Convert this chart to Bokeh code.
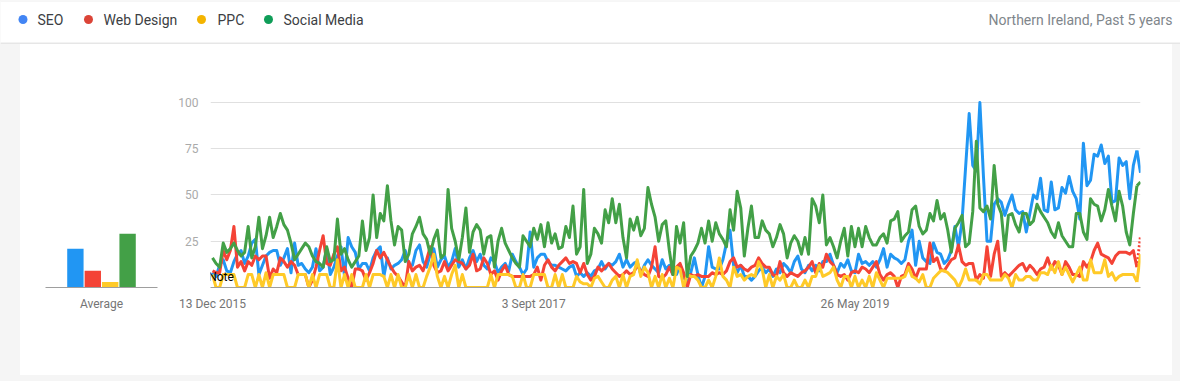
from bokeh.plotting import figure
from bokeh.layouts import column, row
from bokeh.models import FixedTicker, Label, Range1d
from bokeh.embed import file_html
from bokeh.resources import INLINE
from bokeh.core.properties import value

# ---------------- data ----------------
series_names = ["SEO", "Web Design", "PPC", "Social Media"]
region_label = "Northern Ireland, Past 5 years"
average_label = "Average"
note_label = "Note"

seo = [8, 6, 12, 15, 9, 8, 14, 18, 20, 13,
       17, 24, 26, 7, 12, 17, 19, 20, 20, 12,
       16, 21, 8, 24, 12, 13, 10, 8, 11, 21,
       9, 11, 21, 7, 11, 17, 22, 6, 27, 22,
       19, 10, 13, 13, 9, 16, 20, 22, 6, 16,
       10, 12, 13, 15, 20, 12, 12, 20, 23, 14,
       11, 18, 21, 11, 15, 17, 11, 14, 21, 11,
       15, 10, 16, 20, 14, 18, 12, 10, 16, 14,
       8, 11, 13, 9, 18, 14, 11, 7, 10, 30,
       11, 16, 18, 18, 14, 12, 12, 11, 10, 9,
       11, 12, 6, 8, 6, 8, 6, 9, 10, 14,
       10, 13, 12, 14, 18, 11, 15, 11, 13, 14,
       7, 12, 15, 12, 10, 8, 15, 10, 12, 7,
       7, 12, 6, 2, 8, 16, 7, 0, 6, 22,
       11, 10, 10, 15, 24, 31, 12, 8, 12, 6,
       6, 4, 6, 9, 11, 8, 10, 6, 10, 8,
       13, 11, 8, 14, 17, 10, 8, 12, 9, 12,
       9, 14, 14, 18, 12, 8, 13, 11, 15, 9,
       8, 18, 13, 14, 12, 14, 11, 15, 21, 11,
       18, 16, 15, 13, 15, 25, 31, 12, 25, 16,
       14, 13, 24, 19, 18, 13, 15, 20, 33, 22,
       36, 65, 94, 66, 63, 100, 60, 25, 25, 45,
       48, 46, 39, 45, 50, 42, 40, 41, 30, 40,
       50, 48, 59, 42, 41, 57, 42, 43, 54, 51,
       60, 52, 48, 37, 78, 55, 58, 72, 71, 77,
       67, 71, 46, 47, 70, 66, 68, 48, 66, 74,
       62]

web_design = [9, 8, 8, 20, 15, 20, 33, 11, 14, 9,
              14, 12, 17, 15, 17, 17, 5, 10, 8, 16,
              14, 11, 14, 12, 7, 7, 7, 0, 4, 11,
              20, 28, 13, 12, 18, 22, 9, 11, 5, 0,
              10, 10, 9, 4, 8, 13, 20, 16, 19, 15,
              11, 8, 6, 3, 0, 14, 9, 11, 12, 9,
              15, 22, 12, 8, 9, 14, 9, 12, 15, 14,
              13, 10, 12, 18, 9, 10, 16, 13, 7, 9,
              4, 9, 12, 7, 6, 6, 6, 6, 6, 6,
              7, 11, 4, 12, 15, 11, 9, 12, 14, 16,
              13, 14, 13, 8, 13, 7, 4, 6, 11, 9,
              11, 13, 10, 8, 6, 7, 9, 7, 8, 12,
              9, 7, 6, 11, 22, 6, 5, 7, 11, 7,
              11, 13, 8, 0, 7, 6, 7, 6, 6, 6,
              8, 7, 8, 7, 9, 14, 16, 11, 12, 10,
              9, 11, 12, 16, 13, 11, 11, 7, 6, 14,
              8, 6, 8, 7, 6, 8, 9, 11, 14, 8,
              13, 11, 18, 14, 12, 7, 6, 7, 4, 8,
              9, 8, 11, 10, 8, 11, 14, 7, 4, 7,
              8, 6, 0, 6, 7, 13, 10, 5, 10, 10,
              10, 24, 14, 16, 10, 9, 12, 15, 16, 23,
              14, 12, 13, 13, 4, 7, 5, 22, 6, 18,
              25, 6, 8, 6, 8, 10, 12, 13, 9, 12,
              10, 7, 10, 11, 16, 10, 14, 12, 7, 14,
              11, 7, 7, 6, 14, 11, 14, 20, 24, 18,
              17, 16, 13, 17, 19, 19, 19, 18, 20, 11,
              28]

ppc = [7, 0, 0, 7, 7, 7, 7, 0, 0, 0,
       7, 7, 0, 7, 0, 8, 0, 7, 7, 7,
       7, 0, 0, 0, 7, 7, 7, 0, 7, 0,
       7, 7, 7, 0, 0, 15, 0, 7, 0, 7,
       0, 0, 0, 7, 0, 7, 7, 7, 6, 0,
       7, 0, 7, 0, 0, 7, 0, 7, 0, 0,
       6, 11, 18, 6, 0, 6, 0, 7, 12, 0,
       7, 0, 0, 0, 0, 0, 0, 0, 7, 0,
       7, 7, 7, 7, 6, 0, 0, 7, 0, 0,
       7, 7, 7, 7, 0, 0, 7, 0, 7, 0,
       0, 0, 6, 3, 2, 2, 0, 5, 6, 3,
       0, 0, 4, 6, 0, 7, 0, 6, 7, 15,
       6, 11, 8, 0, 6, 0, 7, 0, 5, 0,
       11, 10, 0, 7, 6, 6, 4, 0, 0, 4,
       0, 6, 16, 6, 4, 0, 11, 6, 7, 4,
       6, 7, 6, 14, 10, 0, 7, 0, 6, 4,
       7, 0, 0, 4, 0, 0, 4, 0, 6, 6,
       12, 6, 7, 8, 11, 4, 0, 6, 6, 0,
       6, 0, 4, 0, 6, 0, 8, 4, 0, 5,
       5, 5, 5, 5, 6, 11, 6, 5, 3, 7,
       0, 0, 5, 7, 9, 9, 8, 6, 4, 0,
       4, 10, 4, 4, 4, 2, 7, 7, 4, 4,
       4, 4, 7, 5, 0, 7, 4, 4, 6, 6,
       4, 4, 8, 8, 7, 12, 8, 14, 7, 11,
       7, 3, 7, 11, 4, 4, 15, 8, 8, 8,
       15, 6, 8, 4, 6, 7, 7, 7, 7, 3,
       18]

social_media = [16, 13, 11, 24, 19, 21, 24, 20, 17, 19,
                33, 16, 22, 38, 21, 28, 38, 27, 33, 40,
                34, 31, 24, 15, 18, 21, 24, 22, 17, 14,
                13, 11, 22, 14, 15, 37, 18, 21, 15, 11,
                14, 17, 36, 20, 27, 50, 27, 40, 36, 55,
                36, 23, 33, 31, 14, 18, 29, 33, 38, 29,
                26, 18, 26, 31, 16, 18, 53, 32, 25, 15,
                27, 43, 19, 30, 34, 31, 18, 27, 28, 11,
                25, 32, 24, 20, 16, 13, 11, 28, 25, 22,
                32, 26, 34, 22, 35, 24, 29, 21, 22, 33,
                27, 44, 18, 22, 53, 13, 18, 32, 29, 24,
                42, 35, 48, 35, 45, 27, 16, 37, 31, 38,
                28, 32, 54, 45, 38, 25, 34, 36, 20, 7,
                33, 24, 35, 6, 17, 20, 24, 32, 24, 36,
                25, 35, 29, 26, 22, 42, 31, 52, 43, 17,
                32, 44, 27, 27, 36, 31, 29, 22, 27, 34,
                29, 16, 24, 28, 25, 18, 27, 18, 48, 44,
                35, 50, 23, 27, 22, 16, 25, 32, 17, 33,
                22, 32, 22, 33, 27, 23, 23, 27, 29, 24,
                36, 37, 41, 25, 28, 30, 42, 44, 33, 29,
                31, 40, 36, 47, 37, 40, 31, 19, 32, 35,
                39, 22, 24, 41, 79, 43, 41, 44, 37, 66,
                45, 40, 20, 39, 40, 34, 30, 40, 40, 34,
                36, 45, 41, 38, 35, 30, 27, 35, 28, 25,
                22, 22, 40, 40, 30, 26, 48, 45, 44, 36,
                42, 53, 44, 36, 52, 44, 30, 23, 40, 55,
                57]

averages = [21, 9, 3, 29]

tick_weeks = [0, 90, 180]
tick_labels = ["13 Dec 2015", "3 Sept 2017", "26 May 2019"]
y_ticks = [25, 50, 75, 100]

# ---------------- styles ----------------
line_colors = ["#2196f3", "#f44336", "#ffca28", "#43a047"]
dot_colors = ["#4285f4", "#db4437", "#f4b400", "#0f9d58"]
FONT = "Roboto"
Y_MAX = 104.86

# ---------------- header ----------------
header = figure(width=1180, height=44, x_range=Range1d(0, 1180), y_range=Range1d(44, 0),
                output_backend="svg", toolbar_location=None, min_border=0)
header.axis.visible = False
header.grid.visible = False
header.outline_line_color = None
header.background_fill_color = "white"
header.border_fill_color = "white"

dot_x = [22.5, 88, 201, 268]
text_x = [37, 103, 217, 283]
header.scatter(x=dot_x, y=[19] * 4, size=9, color=dot_colors, line_color=None)
header.text(x=text_x, y=[19.5] * 4, text=series_names, text_font=value(FONT),
            text_font_size="14px", text_color="#3c4043", text_baseline="middle")
header.text(x=[1172], y=[19.5], text=[region_label], text_font=value(FONT),
            text_font_size="14px", text_color="#80868b", text_baseline="middle",
            text_align="right")
header.segment(x0=[0, 0, 0], y0=[43.5, 42.5, 0.5], x1=[1180, 1180, 1180], y1=[43.5, 42.5, 0.5],
               line_color=["#cfcfcf", "#e6e6e6", "#ededed"], line_width=1)

# ---------------- average bars ----------------
avg = figure(width=150, height=331, x_range=Range1d(-1.718, 4.718), y_range=Range1d(0, Y_MAX),
             output_backend="svg", toolbar_location=None,
             min_border_left=25, min_border_right=13, min_border_top=49, min_border_bottom=88)
avg.outline_line_color = None
avg.grid.visible = False
avg.yaxis.visible = False
avg.background_fill_color = "white"
avg.border_fill_color = "white"
avg.vbar(x=list(range(len(averages))), top=averages, width=0.94, color=line_colors, line_color=None)
avg.xaxis.ticker = FixedTicker(ticks=[1.5])
avg.xaxis.major_label_overrides = {1.5: average_label}
avg.xaxis.axis_line_color = "#9e9e9e"
avg.xaxis.major_tick_line_color = None
avg.xaxis.minor_tick_line_color = None
avg.xaxis.major_label_text_font = FONT
avg.xaxis.major_label_text_font_size = "12px"
avg.xaxis.major_label_text_color = "#757575"
avg.xaxis.major_label_standoff = 3

# ---------------- main chart ----------------
main = figure(width=1002, height=331, x_range=Range1d(-0.56, 260), y_range=Range1d(0, Y_MAX),
              output_backend="svg", toolbar_location=None,
              min_border_left=40, min_border_right=32, min_border_top=49, min_border_bottom=88)
main.outline_line_color = None
main.background_fill_color = "white"
main.border_fill_color = "white"
main.xgrid.visible = False
main.ygrid.ticker = FixedTicker(ticks=y_ticks)
main.ygrid.grid_line_color = "#e0e0e0"
main.yaxis.ticker = FixedTicker(ticks=y_ticks)
main.yaxis.axis_line_color = None
main.yaxis.major_tick_line_color = None
main.yaxis.minor_tick_line_color = None
main.yaxis.major_label_text_font = FONT
main.yaxis.major_label_text_font_size = "12px"
main.yaxis.major_label_text_color = "#aaaaaa"
main.yaxis.major_label_standoff = 6

main.xaxis.ticker = FixedTicker(ticks=tick_weeks)
main.xaxis.major_label_overrides = {w: lab for w, lab in zip(tick_weeks, tick_labels)}
main.xaxis.axis_line_color = "#9e9e9e"
main.xaxis.major_tick_line_color = None
main.xaxis.minor_tick_line_color = None
main.xaxis.major_label_text_font = FONT
main.xaxis.major_label_text_font_size = "12px"
main.xaxis.major_label_text_color = "#757575"
main.xaxis.major_label_standoff = 3

all_series = [seo, web_design, ppc, social_media]
for vals, col in zip(all_series, line_colors):
    xs = list(range(len(vals)))
    main.line(xs[:-1], vals[:-1], line_color=col, line_width=3, line_join="round")
    if col == line_colors[1]:
        main.line(xs[-2:], vals[-2:], line_color=col, line_width=3, line_dash="2 2")
    else:
        main.line(xs[-2:], vals[-2:], line_color=col, line_width=3, line_join="round")

main.add_layout(Label(x=-1.2, y=5.6, text=note_label, text_font=FONT, text_font_size="12px",
                      text_color="black", text_baseline="middle"))

body = row(avg, main, margin=(0, 8, 6, 20), styles={"background-color": "white"})
layout = column(header, body, styles={"background-color": "#f5f5f5"})
open("out.html", "w").write(file_html(layout, INLINE))
